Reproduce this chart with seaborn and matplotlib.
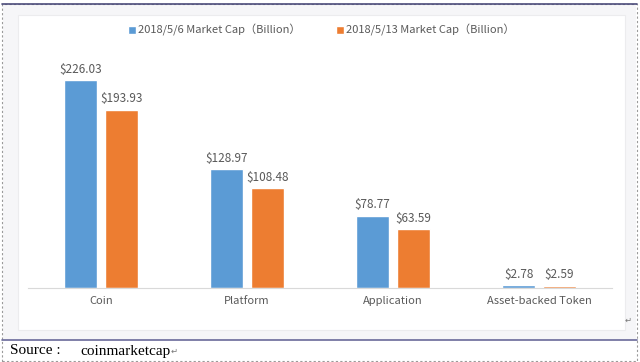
import matplotlib
matplotlib.use("Agg")
import matplotlib.pyplot as plt
import matplotlib.patches as mpatches
import seaborn as sns
import pandas as pd

# chart values
categories = ["Coin", "Platform", "Application", "Asset-backed Token"]
cap_0506 = [226.03, 128.97, 78.77, 2.78]
cap_0513 = [193.93, 108.48, 63.59, 2.59]
series = ["2018/5/6 Market Cap（Billion）", "2018/5/13 Market Cap（Billion）"]
colors = ["#5B9BD5", "#ED7D31"]

df = pd.DataFrame({
    "category": categories * 2,
    "value": cap_0506 + cap_0513,
    "series": [series[0]] * 4 + [series[1]] * 4,
})

sns.set_style("white")
plt.rcParams["font.family"] = ["Noto Sans CJK SC", "DejaVu Sans"]

W, H = 640, 362
fig = plt.figure(figsize=(6.4, 3.62), dpi=100, facecolor="white")


def box(x0, y0, x1, y1, **kw):
    # pixel box (top-left origin) -> figure coords
    return mpatches.Rectangle((x0 / W, 1 - y1 / H), (x1 - x0) / W, (y1 - y0) / H,
                              transform=fig.transFigure, zorder=-5, **kw)


# page background, dashed frame and chart box
fig.patches.append(box(3, 5, 636, 340, facecolor="#f6f6f8", edgecolor="none"))
fig.patches.append(box(18, 15, 625, 330, facecolor="white", edgecolor="#ececee", lw=0.8))
fig.patches.append(box(2, 4, 637, 361, facecolor="none", edgecolor="#9a9a9a",
                       lw=0.8, linestyle=(0, (2, 2))))
fig.add_artist(plt.Line2D([2 / W, 637 / W], [1 - 4 / H, 1 - 4 / H],
                          transform=fig.transFigure, color="#4b4b7a", lw=1.2))
fig.add_artist(plt.Line2D([2 / W, 637 / W], [1 - 340 / H, 1 - 340 / H],
                          transform=fig.transFigure, color="#6a6a9a", lw=1.2))

ax = fig.add_axes([28 / W, 1 - 288 / H, 584 / W, 238 / H])
ax.set_facecolor("none")
sns.barplot(data=df, x="category", y="value", hue="series", hue_order=series,
            palette=colors, saturation=1, width=0.56, gap=0.2, ax=ax, legend=True)

for c in ax.containers:
    ax.bar_label(c, labels=[f"${v:.2f}" for v in c.datavalues], padding=3,
                 fontsize=8.5, color="#595959")

ax.set_ylim(0, 258.7)
ax.set_xlim(-0.5, 3.5)
ax.set_xlabel("")
ax.set_ylabel("")
ax.set_yticks([])
ax.tick_params(axis="x", length=0, labelsize=8, labelcolor="#595959", pad=6)
for s in ["top", "left", "right"]:
    ax.spines[s].set_visible(False)
ax.spines["bottom"].set_color("#d9d9d9")
ax.spines["bottom"].set_linewidth(0.8)

handles, labels = ax.get_legend_handles_labels()
ax.get_legend().remove()
fig.legend(handles, labels, loc="center", bbox_to_anchor=(321 / W, 1 - 30 / H),
           ncol=2, frameon=False, fontsize=8, labelcolor="#595959",
           handlelength=0.7, handleheight=0.7, handletextpad=0.2, columnspacing=3.2)

fig.text(628 / W, 1 - 320 / H, "↵", fontsize=6, color="#777777",
         family=["DejaVu Sans"], ha="center", va="center")
fig.text(10 / W, 1 - 351 / H, "Source :", fontsize=11, color="black",
         family=["Liberation Serif", "DejaVu Sans"], va="center")
fig.text(80 / W, 1 - 351 / H, "coinmarketcap", fontsize=11, color="black",
         family=["Liberation Serif", "DejaVu Sans"], va="center")
fig.text(171 / W, 1 - 351 / H, "↵", fontsize=6, color="#777777",
         family=["DejaVu Sans"], va="center")

fig.savefig("out.png", dpi=100, facecolor="white")
